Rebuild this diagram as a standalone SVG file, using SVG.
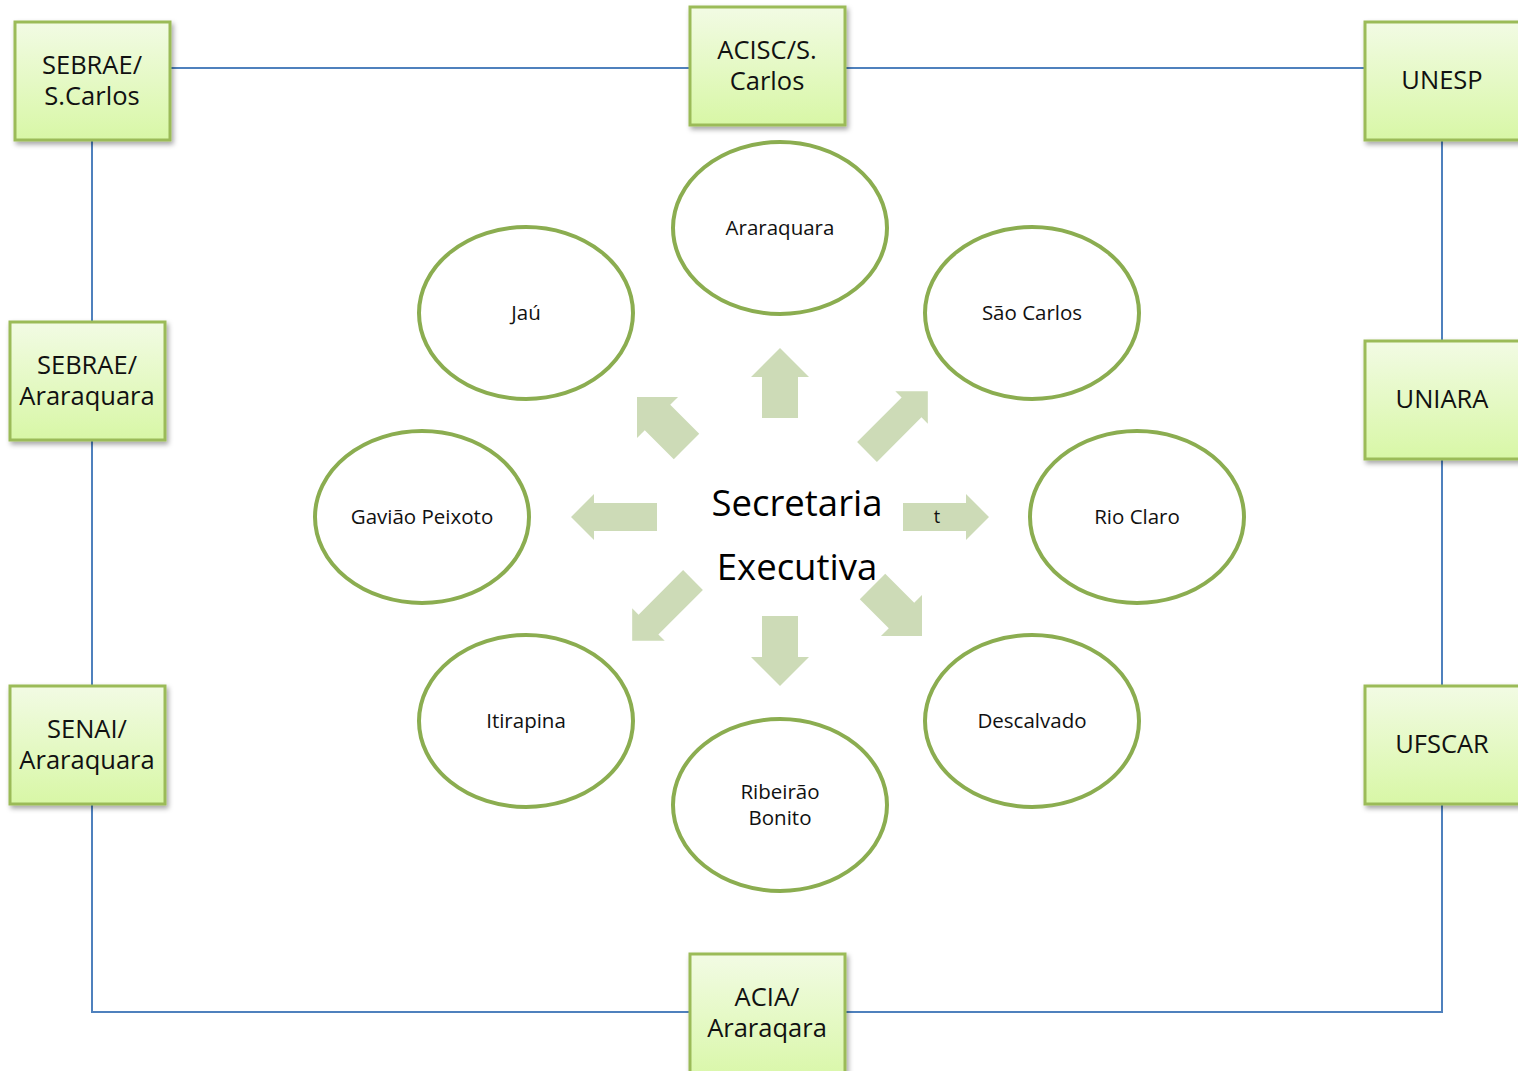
<svg xmlns="http://www.w3.org/2000/svg" width="1518" height="1071" viewBox="0 0 1518 1071">
<defs>
<linearGradient id="boxg" x1="0" y1="0" x2="0" y2="1">
<stop offset="0" stop-color="#f2fbe4"/>
<stop offset="1" stop-color="#d8f7a6"/>
</linearGradient>
<filter id="sh" x="-20%" y="-20%" width="140%" height="140%">
<feDropShadow dx="2" dy="3" stdDeviation="2.5" flood-color="#000" flood-opacity="0.35"/>
</filter>
<path id="arS" d="M0,-18 H41 V-29 L70,0 L41,29 V18 H0 Z"/>
<path id="arL" d="M0,-14 H63 V-23 L86,0 L63,23 V14 H0 Z"/>
</defs>
<style>
.box{fill:url(#boxg);stroke:#9bbb59;stroke-width:3;filter:url(#sh)}
.bt{font-family:"Open Sans","Liberation Sans",Arial,sans-serif;font-size:25.5px;fill:#111;text-anchor:middle}
.ell{fill:#fff;stroke:#8bad50;stroke-width:4}
.et{font-family:"Open Sans","Liberation Sans",Arial,sans-serif;font-size:20.5px;fill:#111;text-anchor:middle}
.conn{stroke:#4f81bd;stroke-width:2;fill:none}
.arrow{fill:#cddbb7}
.ct{font-family:"Open Sans","Liberation Sans",Arial,sans-serif;font-size:36.5px;fill:#000;text-anchor:middle}
</style>
<rect width="1518" height="1071" fill="#fff"/>
<g id="connectors">
<path class="conn" d="M170,68 H690 M845,68 H1365 M92,140 V1012 H690 M845,1012 H1442 V140"/>
</g>
<g id="arrows">
<use href="#arS" class="arrow" transform="translate(780,418) rotate(-90)"/>
<use href="#arS" class="arrow" transform="translate(780,616) rotate(90)"/>
<use href="#arL" class="arrow" transform="translate(903,517)"/>
<use href="#arL" class="arrow" transform="translate(657,517) rotate(180)"/>
<use href="#arL" class="arrow" transform="translate(867,452) rotate(-45)"/>
<use href="#arL" class="arrow" transform="translate(693,580) rotate(135)"/>
<use href="#arS" class="arrow" transform="translate(686.5,446.5) rotate(-135)"/>
<use href="#arS" class="arrow" transform="translate(872.5,586.5) rotate(45)"/>
<text x="937" y="523" font-family="Open Sans, Liberation Sans, Arial, sans-serif" font-size="18" fill="#111" text-anchor="middle">t</text>
</g>
<g id="center">
<text class="ct" x="797" y="516">Secretaria</text>
<text class="ct" x="797" y="580">Executiva</text>
</g>
<g id="sebrae-scarlos"><rect class="box" x="15" y="22" width="155" height="118"/><text class="bt" x="92" y="74">SEBRAE/</text><text class="bt" x="92" y="105">S.Carlos</text></g>
<g id="acisc"><rect class="box" x="690" y="7" width="155" height="118"/><text class="bt" x="767" y="59">ACISC/S.</text><text class="bt" x="767" y="90">Carlos</text></g>
<g id="unesp"><rect class="box" x="1365" y="22" width="160" height="118"/><text class="bt" x="1442" y="89">UNESP</text></g>
<g id="sebrae-araraquara"><rect class="box" x="10" y="322" width="155" height="118"/><text class="bt" x="87" y="374">SEBRAE/</text><text class="bt" x="87" y="405">Araraquara</text></g>
<g id="uniara"><rect class="box" x="1365" y="341" width="160" height="118"/><text class="bt" x="1442" y="408">UNIARA</text></g>
<g id="senai"><rect class="box" x="10" y="686" width="155" height="118"/><text class="bt" x="87" y="738">SENAI/</text><text class="bt" x="87" y="769">Araraquara</text></g>
<g id="ufscar"><rect class="box" x="1365" y="686" width="160" height="118"/><text class="bt" x="1442" y="753">UFSCAR</text></g>
<g id="acia"><rect class="box" x="690" y="954" width="155" height="130"/><text class="bt" x="767" y="1006">ACIA/</text><text class="bt" x="767" y="1037">Araraqara</text></g>
<g id="araraquara"><ellipse class="ell" cx="780" cy="228" rx="107" ry="86"/><text class="et" x="780" y="235">Araraquara</text></g>
<g id="jau"><ellipse class="ell" cx="526" cy="313" rx="107" ry="86"/><text class="et" x="526" y="320">Jaú</text></g>
<g id="sao-carlos"><ellipse class="ell" cx="1032" cy="313" rx="107" ry="86"/><text class="et" x="1032" y="320">São Carlos</text></g>
<g id="gaviao-peixoto"><ellipse class="ell" cx="422" cy="517" rx="107" ry="86"/><text class="et" x="422" y="524">Gavião Peixoto</text></g>
<g id="rio-claro"><ellipse class="ell" cx="1137" cy="517" rx="107" ry="86"/><text class="et" x="1137" y="524">Rio Claro</text></g>
<g id="itirapina"><ellipse class="ell" cx="526" cy="721" rx="107" ry="86"/><text class="et" x="526" y="728">Itirapina</text></g>
<g id="descalvado"><ellipse class="ell" cx="1032" cy="721" rx="107" ry="86"/><text class="et" x="1032" y="728">Descalvado</text></g>
<g id="ribeirao-bonito"><ellipse class="ell" cx="780" cy="805" rx="107" ry="86"/><text class="et" x="780" y="799">Ribeirão</text><text class="et" x="780" y="825">Bonito</text></g>
</svg>
